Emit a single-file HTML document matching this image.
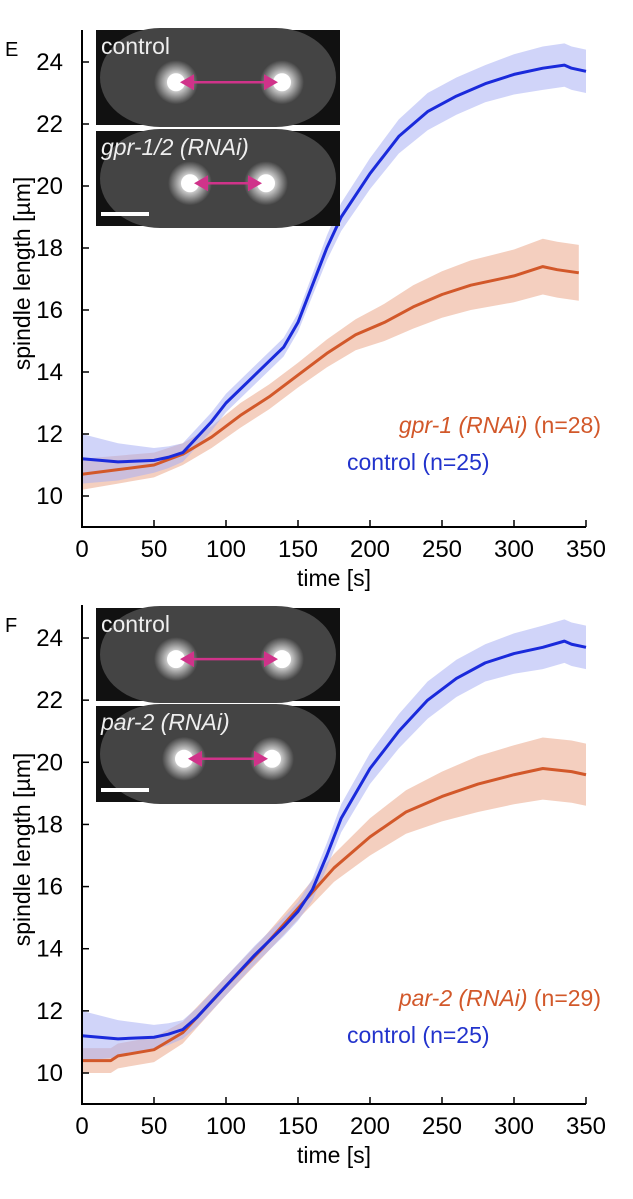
<!DOCTYPE html>
<html><head><meta charset="utf-8"><style>
body{margin:0;background:#fff;}
svg{display:block;font-family:"Liberation Sans",Arial,sans-serif;}
</style></head><body>
<svg id="fig" width="633" height="1199" viewBox="0 0 633 1199">
<defs><radialGradient id="glow"><stop offset="0" stop-color="#fff"/><stop offset="0.35" stop-color="#fff"/><stop offset="1" stop-color="#fff" stop-opacity="0"/></radialGradient></defs>
</svg>
<script>
const times=[0,25,50,60,70,80,90,100,120,140,150,160,170,180,200,220,240,260,280,300,320,335,340,350];
const ctrlE=[11.2,11.1,11.15,11.25,11.4,11.9,12.4,13.0,13.9,14.8,15.6,16.8,18.0,19.0,20.4,21.6,22.4,22.9,23.3,23.6,23.8,23.9,23.8,23.7];
const ctrlEErr=[0.8,0.6,0.4,0.35,0.3,0.3,0.3,0.3,0.3,0.3,0.3,0.35,0.4,0.45,0.5,0.55,0.6,0.6,0.6,0.65,0.7,0.7,0.7,0.7];
const gprTimes=[0,25,50,70,90,110,130,150,170,190,210,230,250,270,300,320,330,345];
const gprE=[10.7,10.85,11.0,11.35,11.9,12.6,13.2,13.9,14.6,15.2,15.6,16.1,16.5,16.8,17.1,17.4,17.3,17.2];
const gprEErr=[0.5,0.45,0.4,0.35,0.35,0.4,0.4,0.4,0.45,0.5,0.6,0.7,0.75,0.8,0.85,0.9,0.9,0.9];
const ctrlF=[11.2,11.1,11.15,11.25,11.4,11.8,12.3,12.8,13.8,14.7,15.2,15.9,17.0,18.2,19.8,21.0,22.0,22.7,23.2,23.5,23.7,23.9,23.8,23.7];
const parTimes=[0,20,25,50,70,100,125,150,175,200,225,250,275,300,320,340,350];
const parF=[10.4,10.4,10.55,10.75,11.3,12.8,14.0,15.3,16.6,17.6,18.4,18.9,19.3,19.6,19.8,19.7,19.6];
const parFErr=[0.4,0.4,0.4,0.4,0.35,0.3,0.3,0.35,0.45,0.6,0.7,0.8,0.9,0.95,1.0,1.0,1.0];
const xTicks=[0,50,100,150,200,250,300,350];
const yTicks=[10,12,14,16,18,20,22,24];

const NS="http://www.w3.org/2000/svg";
const svg=document.getElementById('fig');
function mk(tag,attrs,parent){const e=document.createElementNS(NS,tag);for(const k in attrs)e.setAttribute(k,attrs[k]);(parent||svg).appendChild(e);return e;}

function panel(cfg){
  const g=mk('g',{});
  
  
  const x=t=>82+(t/350)*(586-82);
  const y=v=>cfg.y10-(v-10)*cfg.per;
  cfg.series.forEach(s=>{
    let d='';
    s.t.forEach((t,i)=>{d+=(i?'L':'M')+x(t)+','+y(s.v[i]+s.e[i]);});
    for(let i=s.t.length-1;i>=0;i--)d+='L'+x(s.t[i])+','+y(s.v[i]-s.e[i]);
    const b=mk('path',{d:d+'Z',fill:s.band,opacity:0.55},g);
    
    
  });
  cfg.series.forEach(s=>{
    const d=s.t.map((t,i)=>(i?'L':'M')+x(t)+','+y(s.v[i])).join('');
    const l=mk('path',{d:d,fill:'none',stroke:s.color,'stroke-width':3,'stroke-linejoin':'round'},g);
    
    
  });
  const axisY=cfg.axis;
  const ax=mk('path',{d:`M82,${cfg.top}V${axisY}H586`,stroke:'#000','stroke-width':2,fill:'none'},g);
  
  
  xTicks.forEach(t=>{
    mk('line',{x1:x(t),x2:x(t),y1:axisY,y2:axisY-7,stroke:'#000','stroke-width':1.5},g);
    const tx=mk('text',{x:x(t),y:axisY+30,'font-size':24,'text-anchor':'middle'},g);
    tx.textContent=t;
    
    
  });
  yTicks.forEach(v=>{
    mk('line',{x1:82,x2:89,y1:y(v),y2:y(v),stroke:'#000','stroke-width':1.5},g);
    const tx=mk('text',{x:63,y:y(v)+8,'font-size':24,'text-anchor':'end'},g);
    tx.textContent=v;
    
    
  });
  const xt=mk('text',{x:334,y:axisY+59,'font-size':23,'text-anchor':'middle'},g);
  xt.textContent='time [s]';
  
  
  const cy=(cfg.top+axisY)/2-5;
  const yt=mk('text',{x:0,y:0,'font-size':23,'text-anchor':'middle',transform:`translate(30,${cy}) rotate(-90)`},g);
  yt.textContent='spindle length [µm]';
  
  
  const pl=mk('text',{x:5,y:y(24)-6,'font-size':20},g);
  pl.textContent=cfg.label;
  
  
  const l1=mk('text',{x:601,y:cfg.leg1,'font-size':23,'text-anchor':'end',fill:'#d2582a'},g);
  l1.innerHTML=`<tspan font-style="italic">${cfg.rnai}</tspan> (n=${cfg.n})`;
  
  
  const l2=mk('text',{x:347,y:cfg.leg1+37,'font-size':23,fill:'#2233cc'},g);
  l2.textContent='control (n=25)';
  
  
  cfg.insets.forEach((ins,i)=>{
    const ig=mk('g',{},g);
    
    
    const w=244,h=ins.h,x0=96,y0=ins.y;
    mk('rect',{x:x0,y:y0,width:w,height:h,fill:'#111'},ig);
    mk('rect',{x:x0+4,y:y0-2,width:w-8,height:h+4,rx:60,ry:50,fill:'#444'},ig);
    const cyy=y0+h*0.55;
    [ins.a,ins.b].forEach(px=>{
      mk('circle',{cx:px,cy:cyy,r:22,fill:'url(#glow)',opacity:0.8},ig);
      mk('circle',{cx:px,cy:cyy,r:9,fill:'#fff'},ig);
    });
    mk('line',{x1:ins.a+8,x2:ins.b-8,y1:cyy,y2:cyy,stroke:'#d0338a','stroke-width':2.5},ig);
    mk('path',{d:`M${ins.a+4},${cyy}l14,-8v16z M${ins.b-4},${cyy}l-14,-8v16z`,fill:'#d0338a'},ig);
    const t=mk('text',{x:x0+5,y:y0+24,'font-size':23,fill:'#eee','font-style':ins.it?'italic':'normal'},ig);
    t.textContent=ins.label;
    if(ins.bar)mk('rect',{x:x0+5,y:y0+h-14,width:48,height:4,fill:'#fff'},ig);
  });
}
panel({name:'panel-e',label:'E',y10:496,per:31,top:30,axis:527,leg1:433,rnai:'gpr-1 (RNAi)',n:28,
  series:[{key:'gpr-1',t:gprTimes,v:gprE,e:gprEErr,color:'#d2582a',band:'#eba88a'},
          {key:'control',t:times,v:ctrlE,e:ctrlEErr,color:'#1a2adb',band:'#aab0f4'}],
  insets:[{y:30,h:95,a:176,b:282,label:'control'},{y:131,h:95,a:190,b:266,label:'gpr-1/2 (RNAi)',it:true,bar:true}]});
panel({name:'panel-f',label:'F',y10:1073,per:31.07,top:605,axis:1104,leg1:1006,rnai:'par-2 (RNAi)',n:29,
  series:[{key:'par-2',t:parTimes,v:parF,e:parFErr,color:'#d2582a',band:'#eba88a'},
          {key:'control',t:times,v:ctrlF,e:ctrlEErr,color:'#1a2adb',band:'#aab0f4'}],
  insets:[{y:608,h:93,a:176,b:282,label:'control'},{y:706,h:96,a:184,b:272,label:'par-2 (RNAi)',it:true,bar:true}]});
</script>
</body></html>
